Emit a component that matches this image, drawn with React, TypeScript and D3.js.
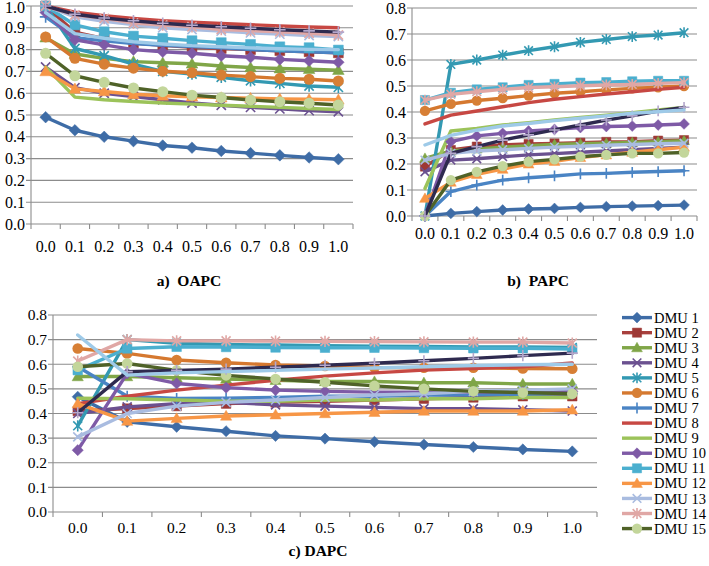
import React from 'react';
import * as d3 from 'd3';

// ---------- DATA ----------
const xLabels = ['0.0', '0.1', '0.2', '0.3', '0.4', '0.5', '0.6', '0.7', '0.8', '0.9', '1.0'];
const dmuNames = ['DMU 1', 'DMU 2', 'DMU 3', 'DMU 4', 'DMU 5', 'DMU 6', 'DMU 7', 'DMU 8', 'DMU 9', 'DMU 10', 'DMU 11', 'DMU 12', 'DMU 13', 'DMU 14', 'DMU 15', 'DMU 16', 'DMU 17'];
const legendCount = 15;

// a) OAPC, one row per DMU
const oapc: number[][] = [
  [0.49, 0.43, 0.40, 0.38, 0.36, 0.35, 0.335, 0.325, 0.315, 0.305, 0.297], // DMU 1
  [1.0, 0.88, 0.85, 0.83, 0.82, 0.81, 0.805, 0.80, 0.795, 0.79, 0.785], // DMU 2
  [0.855, 0.78, 0.76, 0.745, 0.74, 0.735, 0.725, 0.718, 0.713, 0.71, 0.706], // DMU 3
  [0.72, 0.625, 0.60, 0.585, 0.57, 0.555, 0.545, 0.535, 0.528, 0.52, 0.515], // DMU 4
  [1.0, 0.805, 0.772, 0.733, 0.70, 0.688, 0.673, 0.657, 0.645, 0.633, 0.627], // DMU 5
  [0.858, 0.76, 0.733, 0.715, 0.701, 0.694, 0.683, 0.676, 0.668, 0.664, 0.656], // DMU 6
  [0.95, 0.855, 0.84, 0.828, 0.82, 0.814, 0.808, 0.80, 0.795, 0.79, 0.785], // DMU 7
  [1.0, 0.972, 0.955, 0.943, 0.933, 0.926, 0.92, 0.914, 0.909, 0.904, 0.90], // DMU 8
  [0.72, 0.582, 0.57, 0.562, 0.555, 0.55, 0.545, 0.54, 0.535, 0.53, 0.525], // DMU 9
  [0.97, 0.845, 0.822, 0.80, 0.79, 0.783, 0.772, 0.765, 0.755, 0.749, 0.742], // DMU 10
  [1.0, 0.913, 0.882, 0.862, 0.852, 0.841, 0.832, 0.824, 0.813, 0.809, 0.798], // DMU 11
  [0.70, 0.62, 0.608, 0.595, 0.588, 0.584, 0.58, 0.577, 0.574, 0.572, 0.57], // DMU 12
  [1.0, 0.95, 0.93, 0.915, 0.90, 0.892, 0.885, 0.877, 0.871, 0.865, 0.86], // DMU 13
  [1.0, 0.959, 0.943, 0.922, 0.913, 0.905, 0.892, 0.887, 0.882, 0.875, 0.867], // DMU 14
  [0.783, 0.68, 0.65, 0.624, 0.607, 0.591, 0.58, 0.569, 0.561, 0.554, 0.546], // DMU 15
  [1.0, 0.962, 0.945, 0.932, 0.921, 0.912, 0.905, 0.898, 0.891, 0.886, 0.88], // DMU 16
  [0.97, 0.873, 0.852, 0.836, 0.826, 0.818, 0.813, 0.808, 0.804, 0.801, 0.80], // DMU 17
];

// b) PAPC
const papc: number[][] = [
  [0.0, 0.01, 0.017, 0.023, 0.027, 0.029, 0.033, 0.036, 0.038, 0.04, 0.042], // DMU 1
  [0.19, 0.254, 0.267, 0.273, 0.277, 0.279, 0.282, 0.285, 0.286, 0.29, 0.292], // DMU 2
  [0.222, 0.25, 0.258, 0.265, 0.27, 0.275, 0.278, 0.28, 0.283, 0.286, 0.29], // DMU 3
  [0.17, 0.215, 0.22, 0.228, 0.235, 0.24, 0.245, 0.25, 0.255, 0.26, 0.265], // DMU 4
  [0.0, 0.583, 0.60, 0.619, 0.636, 0.651, 0.668, 0.679, 0.69, 0.696, 0.705], // DMU 5
  [0.404, 0.431, 0.444, 0.453, 0.463, 0.472, 0.478, 0.485, 0.491, 0.495, 0.50], // DMU 6
  [0.0, 0.094, 0.119, 0.138, 0.147, 0.154, 0.162, 0.164, 0.168, 0.171, 0.174], // DMU 7
  [0.354, 0.388, 0.404, 0.42, 0.436, 0.449, 0.459, 0.469, 0.478, 0.487, 0.495], // DMU 8
  [0.106, 0.327, 0.337, 0.35, 0.359, 0.369, 0.379, 0.388, 0.397, 0.408, 0.418], // DMU 9
  [0.0, 0.286, 0.308, 0.318, 0.327, 0.333, 0.34, 0.344, 0.346, 0.35, 0.354], // DMU 10
  [0.446, 0.474, 0.487, 0.495, 0.504, 0.508, 0.513, 0.515, 0.518, 0.52, 0.52], // DMU 11
  [0.068, 0.13, 0.16, 0.18, 0.20, 0.21, 0.225, 0.235, 0.245, 0.255, 0.265], // DMU 12
  [0.215, 0.241, 0.25, 0.255, 0.26, 0.265, 0.268, 0.272, 0.275, 0.278, 0.28], // DMU 13
  [0.446, 0.468, 0.478, 0.487, 0.494, 0.497, 0.501, 0.504, 0.506, 0.51, 0.513], // DMU 14
  [0.0, 0.138, 0.17, 0.192, 0.209, 0.218, 0.228, 0.235, 0.241, 0.241, 0.244], // DMU 15
  [0.0, 0.241, 0.267, 0.292, 0.312, 0.331, 0.35, 0.369, 0.385, 0.404, 0.418], // DMU 16
  [0.273, 0.31, 0.33, 0.346, 0.356, 0.367, 0.376, 0.385, 0.395, 0.401, 0.408], // DMU 17
];

// c) DAPC
const dapc: number[][] = [
  [0.468, 0.366, 0.346, 0.328, 0.309, 0.298, 0.285, 0.274, 0.264, 0.254, 0.246], // DMU 1
  [0.41, 0.42, 0.43, 0.44, 0.445, 0.45, 0.455, 0.46, 0.465, 0.47, 0.47], // DMU 2
  [0.55, 0.55, 0.545, 0.54, 0.535, 0.53, 0.53, 0.525, 0.525, 0.52, 0.52], // DMU 3
  [0.40, 0.427, 0.44, 0.445, 0.435, 0.43, 0.425, 0.42, 0.42, 0.415, 0.41], // DMU 4
  [0.35, 0.70, 0.685, 0.68, 0.678, 0.675, 0.673, 0.672, 0.67, 0.67, 0.668], // DMU 5
  [0.664, 0.644, 0.617, 0.606, 0.597, 0.593, 0.587, 0.586, 0.586, 0.583, 0.582], // DMU 6
  [0.59, 0.47, 0.461, 0.462, 0.465, 0.47, 0.47, 0.475, 0.475, 0.478, 0.48], // DMU 7
  [0.44, 0.47, 0.495, 0.515, 0.535, 0.552, 0.565, 0.576, 0.583, 0.59, 0.605], // DMU 8
  [0.462, 0.46, 0.455, 0.45, 0.45, 0.455, 0.455, 0.46, 0.46, 0.465, 0.465], // DMU 9
  [0.251, 0.563, 0.522, 0.505, 0.495, 0.49, 0.487, 0.487, 0.487, 0.488, 0.49], // DMU 10
  [0.576, 0.664, 0.671, 0.67, 0.668, 0.667, 0.667, 0.666, 0.665, 0.665, 0.662], // DMU 11
  [0.44, 0.369, 0.38, 0.39, 0.395, 0.40, 0.405, 0.41, 0.41, 0.41, 0.415], // DMU 12
  [0.305, 0.40, 0.43, 0.445, 0.455, 0.465, 0.475, 0.48, 0.49, 0.495, 0.50], // DMU 13
  [0.613, 0.70, 0.695, 0.695, 0.694, 0.693, 0.692, 0.691, 0.69, 0.69, 0.686], // DMU 14
  [0.59, 0.603, 0.575, 0.555, 0.54, 0.527, 0.512, 0.50, 0.49, 0.485, 0.48], // DMU 15
  [0.403, 0.57, 0.575, 0.58, 0.588, 0.596, 0.604, 0.614, 0.624, 0.635, 0.645], // DMU 16
  [0.719, 0.556, 0.565, 0.57, 0.575, 0.58, 0.585, 0.59, 0.595, 0.598, 0.60], // DMU 17
];

// ---------- STYLES ----------
type Marker = 'diamond' | 'square' | 'triangle' | 'x' | 'star' | 'circle' | 'plus' | 'none';
const seriesStyle: { line: string; fill: string; marker: Marker }[] = [
  { line: '#3E6CA6', fill: '#3E6CA6', marker: 'diamond' },
  { line: '#A8403D', fill: '#9E3835', marker: 'square' },
  { line: '#80A648', fill: '#7FA547', marker: 'triangle' },
  { line: '#6B5190', fill: '#6B5190', marker: 'x' },
  { line: '#3399B2', fill: '#3399B2', marker: 'star' },
  { line: '#D5782F', fill: '#D77F35', marker: 'circle' },
  { line: '#4A84C4', fill: '#4A84C4', marker: 'plus' },
  { line: '#C74843', fill: '#C74843', marker: 'none' },
  { line: '#9CC35A', fill: '#9CC35A', marker: 'none' },
  { line: '#7E5AA6', fill: '#7E5AA6', marker: 'diamond' },
  { line: '#4BAFCF', fill: '#4BAFCF', marker: 'square' },
  { line: '#F79646', fill: '#F79646', marker: 'triangle' },
  { line: '#A9BCE0', fill: '#A9BCE0', marker: 'x' },
  { line: '#E0A7A5', fill: '#E0A7A5', marker: 'star' },
  { line: '#4F6228', fill: '#C3D69B', marker: 'circle' },
  { line: '#2E2A4F', fill: '#B4A7CC', marker: 'plus' },
  { line: '#9ECAE8', fill: '#9ECAE8', marker: 'none' },
];

function markerPath(m: Marker, h: number): string {
  switch (m) {
    case 'diamond': return `M0,${-h}L${h},0L0,${h}L${-h},0Z`;
    case 'square': { const s = h * 0.85; return `M${-s},${-s}H${s}V${s}H${-s}Z`; }
    case 'triangle': return `M0,${-h}L${h},${h * 0.75}L${-h},${h * 0.75}Z`;
    case 'x': { const s = h * 0.8; return `M${-s},${-s}L${s},${s}M${-s},${s}L${s},${-s}`; }
    case 'star': { const s = h * 0.8; return `M${-s},${-s}L${s},${s}M${-s},${s}L${s},${-s}M0,${-h}L0,${h}`; }
    case 'plus': return `M${-h},0L${h},0M0,${-h}L0,${h}`;
    default: return '';
  }
}

function MarkerShape({ m, fill, cx, cy, h }: { m: Marker; fill: string; cx: number; cy: number; h: number }) {
  if (m === 'none') return null;
  if (m === 'circle') return <circle cx={cx} cy={cy} r={h * 0.95} fill={fill} />;
  const stroked = m === 'x' || m === 'star' || m === 'plus';
  return (
    <path
      d={markerPath(m, h)}
      transform={`translate(${cx},${cy})`}
      fill={stroked ? 'none' : fill}
      stroke={fill}
      strokeWidth={stroked ? 1.6 : 0.5}
    />
  );
}

const FONT = "'Liberation Serif', 'Times New Roman', Times, 'DejaVu Serif', serif";
const GRID = '#8C8C8C';

interface PanelCfg {
  data: number[][];
  yMax: number;
  x0: number; x1: number; yTop: number; yBot: number;
  labelY: number; fontSize: number; markerH: number;
}

function Panel({ cfg }: { cfg: PanelCfg }) {
  const x = d3.scaleBand<string>().domain(xLabels).range([cfg.x0, cfg.x1]).padding(0);
  const y = d3.scaleLinear().domain([0, cfg.yMax]).range([cfg.yBot, cfg.yTop]);
  const bw = x.bandwidth();
  const cx = (i: number) => (x(xLabels[i]) as number) + bw / 2;
  const ticks = d3.range(0, Math.round(cfg.yMax * 10) + 1).map((k) => k / 10);
  const fmt = d3.format('.1f');
  const line = d3.line<number>().x((_, i) => cx(i)).y((v) => y(v));
  const boundaries = d3.range(0, xLabels.length + 1).map((i) => cfg.x0 + i * bw);
  return (
    <g>
      {ticks.map((t) => (
        <g key={t}>
          <line x1={cfg.x0 - 5} x2={cfg.x1} y1={y(t)} y2={y(t)} stroke={GRID} strokeWidth={1.1} />
          <text x={cfg.x0 - 6} y={Math.max(y(t), 7)} dy="0.35em" textAnchor="end" style={{ fontFamily: FONT, fontSize: cfg.fontSize }}>
            {fmt(t)}
          </text>
        </g>
      ))}
      <line x1={cfg.x0} x2={cfg.x0} y1={cfg.yTop} y2={cfg.yBot} stroke={GRID} strokeWidth={1.1} />
      {boundaries.map((bx, i) => (
        <line key={i} x1={bx} x2={bx} y1={cfg.yBot} y2={cfg.yBot + 5} stroke={GRID} strokeWidth={1.1} />
      ))}
      {xLabels.map((l, i) => (
        <text key={l} x={cx(i)} y={cfg.labelY} dy="0.35em" textAnchor="middle" style={{ fontFamily: FONT, fontSize: cfg.fontSize }}>
          {l}
        </text>
      ))}
      {cfg.data.map((row, s) => {
        const st = seriesStyle[s];
        return (
          <g key={s}>
            <path d={line(row) || ''} fill="none" stroke={st.line} strokeWidth={3.4} strokeLinejoin="round" strokeLinecap="round" />
            {row.map((v, i) => (
              <MarkerShape key={i} m={st.marker} fill={st.fill} cx={cx(i)} cy={y(v)} h={cfg.markerH} />
            ))}
          </g>
        );
      })}
    </g>
  );
}

const panelA: PanelCfg = { data: oapc, yMax: 1.0, x0: 31, x1: 353, yTop: 6, yBot: 224, labelY: 246, fontSize: 16, markerH: 5.8 };
const panelB: PanelCfg = { data: papc, yMax: 0.8, x0: 412, x1: 697, yTop: 8, yBot: 216, labelY: 233, fontSize: 16, markerH: 5.4 };
const panelC: PanelCfg = { data: dapc, yMax: 0.8, x0: 53, x1: 597, yTop: 315, yBot: 512, labelY: 528, fontSize: 15.5, markerH: 5.6 };

export default function App() {
  const legendY = (i: number) => 317.6 + i * 15.07;
  const titleStyle = { fontFamily: FONT, fontSize: 15.5, fontWeight: 'bold' as const, whiteSpace: 'pre' as const };
  return (
    <svg width={709} height={566} style={{ position: 'absolute', left: 0, top: 0, background: '#fff' }}>
      <rect x={0} y={0} width={709} height={566} fill="#fff" />
      <Panel cfg={panelA} />
      <Panel cfg={panelB} />
      <Panel cfg={panelC} />
      <text x={189} y={281} dy="0.35em" textAnchor="middle" style={titleStyle}>
        {'a)  OAPC'}
      </text>
      <text x={538} y={281} dy="0.35em" textAnchor="middle" style={titleStyle}>
        {'b)  PAPC'}
      </text>
      <text x={318} y={551} dy="0.35em" textAnchor="middle" style={titleStyle}>
        c) DAPC
      </text>
      {dmuNames.slice(0, legendCount).map((name, i) => {
        const st = seriesStyle[i];
        const ly = legendY(i);
        return (
          <g key={name}>
            <line x1={622} x2={652} y1={ly} y2={ly} stroke={st.line} strokeWidth={3.4} />
            <MarkerShape m={st.marker} fill={st.fill} cx={637} cy={ly} h={5.4} />
            <text x={654} y={ly} dy="0.35em" style={{ fontFamily: FONT, fontSize: 14.5 }}>
              {name}
            </text>
          </g>
        );
      })}
    </svg>
  );
}
